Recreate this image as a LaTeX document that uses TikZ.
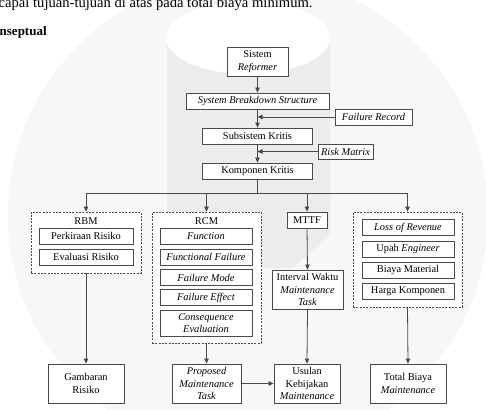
\documentclass[tikz,border=0pt]{standalone}
\usepackage{fontspec}
\setmainfont{Liberation Serif}
\usetikzlibrary{arrows.meta}
\definecolor{linec}{HTML}{4A4A4A}
\definecolor{wmband}{HTML}{ECECEC}
\definecolor{wmcircle}{HTML}{F7F7F7}
\newcommand{\fsz}{\fontsize{10.4pt}{12.6pt}\selectfont}
\tikzset{
  box/.style={draw=linec, fill=white, line width=0.8pt, inner sep=0pt, align=center, font=\fsz},
  group/.style={draw=linec, fill=white, line width=0.7pt, dash pattern=on 2pt off 1.3pt, inner sep=0pt},
  lbl/.style={inner sep=0pt, font=\fsz},
  conn/.style={draw=linec, line width=0.8pt},
  arr/.style={conn, -{Triangle[length=5pt,width=4.5pt]}},
}
\begin{document}
\begin{tikzpicture}[x=1pt,y=-1pt]
\useasboundingbox (0,0) rectangle (486,409);
% faint watermark
\fill[wmcircle] (248,215) circle (240);
\fill[wmband] (167,40) -- (330,40) -- (330,235) -- (292,268) -- (167,268) -- cycle;
\fill[white] (248,38) ellipse (82 and 36);
% page text
\node[anchor=base west, inner sep=0pt, font=\fontsize{14.6pt}{16pt}\selectfont] (t1) at (-1.5,7.5) {capai tujuan-tujuan di atas pada total biaya minimum.};
\node[anchor=base west, inner sep=0pt, font=\fontsize{13pt}{15pt}\selectfont\bfseries] (t2) at (-0.5,36) {nseptual};
% groups
\node[group, minimum width=110pt, minimum height=61pt] (rbm) at (86,242.5) {};
\node[group, minimum width=109pt, minimum height=131pt] (rcm) at (206.5,277.5) {};
\node[group, minimum width=109pt, minimum height=95pt] (cost) at (407.5,259.5) {};
\node[lbl] (rbmlbl) at (86,221) {RBM};
\node[lbl] (rcmlbl) at (206.5,221) {RCM};
% top chain
\node[box, minimum width=61pt, minimum height=29pt] (sistem) at (257.5,61.5) {Sistem\\\textit{Reformer}};
\node[box, minimum width=143pt, minimum height=16pt] (sbs) at (257.5,101) {\textit{System Breakdown Structure}};
\node[box, minimum width=77pt, minimum height=16pt] (failrec) at (373.5,117) {\textit{Failure Record}};
\node[box, minimum width=110pt, minimum height=16pt] (subsis) at (257.5,136) {Subsistem Kritis};
\node[box, minimum width=55pt, minimum height=15pt] (risk) at (345.5,151.5) {\textit{Risk Matrix}};
\node[box, minimum width=110pt, minimum height=16pt] (komp) at (257.5,171) {Komponen Kritis};
% RBM
\node[box, minimum width=94pt, minimum height=16pt] (perk) at (86,236) {Perkiraan Risiko};
\node[box, minimum width=94pt, minimum height=16pt] (eval) at (86,257) {Evaluasi Risiko};
% RCM
\node[box, minimum width=92pt, minimum height=16pt] (func) at (206,236) {\textit{Function}};
\node[box, minimum width=92pt, minimum height=16pt] (ff) at (206,257) {\textit{Functional Failure}};
\node[box, minimum width=92pt, minimum height=16pt] (fm) at (206,277.5) {\textit{Failure Mode}};
\node[box, minimum width=92pt, minimum height=16pt] (fe) at (206,297.5) {\textit{Failure Effect}};
\node[box, minimum width=92pt, minimum height=26pt] (ce) at (206,323) {\textit{Consequence}\\\textit{Evaluation}};
% MTTF
\node[box, minimum width=40pt, minimum height=16pt] (mttf) at (307,220) {MTTF};
\node[box, minimum width=71pt, minimum height=39pt] (interval) at (307.5,289.5) {Interval Waktu\\\textit{Maintenance}\\\textit{Task}};
% cost
\node[box, minimum width=92pt, minimum height=16pt] (lor) at (408,227.5) {\textit{Loss of Revenue}};
\node[box, minimum width=92pt, minimum height=16pt] (upah) at (408,249) {Upah \textit{Engineer}};
\node[box, minimum width=92pt, minimum height=16pt] (biaya) at (408,270) {Biaya Material};
\node[box, minimum width=92pt, minimum height=16pt] (harga) at (408,291) {Harga Komponen};
% bottom
\node[box, minimum width=76pt, minimum height=39pt] (gamb) at (86,383.5) {Gambaran\\Risiko};
\node[box, minimum width=69pt, minimum height=39pt] (prop) at (206.5,383.5) {\textit{Proposed}\\\textit{Maintenance}\\\textit{Task}};
\node[box, minimum width=66pt, minimum height=39pt] (usul) at (307,383.5) {Usulan\\Kebijakan\\\textit{Maintenance}};
\node[box, minimum width=76pt, minimum height=39pt] (total) at (408,383.5) {Total Biaya\\\textit{Maintenance}};
% connectors
\draw[arr] (sistem.south) -- (sbs.north);
\draw[arr] (sbs.south) -- (subsis.north);
\draw[arr] (subsis.south) -- (komp.north);
\coordinate (fr) at (sbs.south |- failrec.west);
\coordinate (rm) at (subsis.south |- risk.west);
\draw[arr] (failrec.west) -- (fr);
\draw[arr] (risk.west) -- (rm);
\coordinate (br) at (257.5,193);
\coordinate (brl) at (86,193);
\coordinate (brr) at (407.5,193);
\draw[conn] (komp.south) -- (br);
\draw[conn] (brl) -- (brr);
\draw[arr] (brl) -- (rbm.north);
\draw[arr] (206.5,193) -- (rcm.north);
\draw[arr] (mttf.north |- br) -- (mttf.north);
\draw[arr] (brr) -- (cost.north);
\draw[arr] (mttf.south) -- (interval.north);
\draw[arr] (rbm.south) -- (gamb.north);
\draw[arr] (rcm.south) -- (prop.north);
\draw[arr] (interval.south) -- (usul.north);
\draw[arr] (cost.south) -- (total.north);
\draw[arr] (prop.east) -- (usul.west);
\end{tikzpicture}
\end{document}
